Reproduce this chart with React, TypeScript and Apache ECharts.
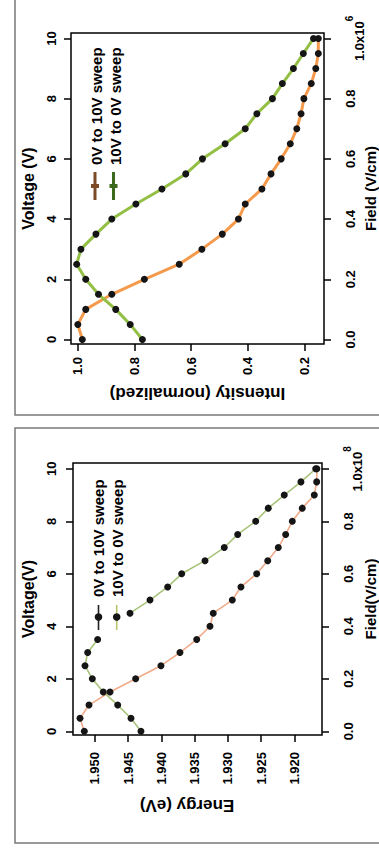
import React, { useEffect, useRef } from "react";
import * as echarts from "echarts";

// ---------- data ----------
const VOLTAGE = [0, 0.5, 1, 1.5, 2, 2.5, 3, 3.5, 4, 4.5, 5, 5.5, 6, 6.5, 7, 7.5, 8, 8.5, 9, 9.5, 10];

// Panel 1: normalized intensity
const INTENSITY_UP = [0.984, 1.0, 0.972, 0.88, 0.765, 0.642, 0.562, 0.49, 0.433, 0.409, 0.35, 0.318, 0.282, 0.25, 0.227, 0.212, 0.202, 0.176, 0.16, 0.151, 0.151];
const INTENSITY_DOWN = [0.772, 0.815, 0.866, 0.927, 0.972, 1.004, 0.989, 0.936, 0.88, 0.795, 0.703, 0.619, 0.56, 0.48, 0.409, 0.368, 0.313, 0.278, 0.239, 0.204, 0.168];

// Panel 2: energy (eV); the 4 V point of the down sweep is hidden under the legend
const ENERGY_UP = [1.95161, 1.95226, 1.9509, 1.94774, 1.94388, 1.94007, 1.93721, 1.93469, 1.93269, 1.9322, 1.92933, 1.92803, 1.92566, 1.924, 1.92241, 1.9213, 1.9203, 1.9188, 1.91699, 1.91663, 1.9166];
const ENERGY_DOWN = [1.94308, 1.94458, 1.94658, 1.94875, 1.9504, 1.9515, 1.9511, 1.9496, null, 1.94473, 1.94172, 1.93906, 1.93695, 1.93344, 1.93054, 1.92852, 1.92581, 1.92392, 1.92151, 1.919, 1.91678];

const VOLTAGE_TICKS = [0, 2, 4, 6, 8, 10];
const FIELD_TICKS = [0, 0.2, 0.4, 0.6, 0.8, 1.0];
const INTENSITY_TICKS = [0.2, 0.4, 0.6, 0.8, 1.0];
const ENERGY_TICKS = [1.92, 1.925, 1.93, 1.935, 1.94, 1.945, 1.95];

const LEGEND = ["0V to 10V sweep", "10V to 0V sweep"];

// ---------- styles ----------
const FONT = "'Liberation Sans', Arial, Helvetica, sans-serif";
const ORANGE1 = "#f59a4c";
const GREEN1 = "#93bf45";
const ORANGE2 = "#f0ab8a";
const GREEN2 = "#a9c47a";

const labelStyle = { color: "#000", fontFamily: FONT, fontWeight: "bold" as const, fontSize: 13 };
const nameStyle = { color: "#000", fontFamily: FONT, fontWeight: "bold" as const, fontSize: 16 };
const tick = (vals: number[]) => ({
  show: true,
  length: 7,
  inside: false,
  customValues: vals,
  lineStyle: { color: "#000", width: 1.5 },
});

function fieldLabel(exp: string) {
  return {
    ...labelStyle,
    rotate: 90,
    margin: 20,
    customValues: FIELD_TICKS,
    formatter: (v: number) => (Math.abs(v - 1) < 1e-9 ? "{m|1.0x10}{s|" + exp + "}" : v.toFixed(1)),
    rich: {
      m: { ...labelStyle, lineHeight: 22, verticalAlign: "bottom" },
      s: { ...labelStyle, fontSize: 10, lineHeight: 10, verticalAlign: "top" },
    },
  };
}

function buildOption() {
  const pairs = (xs: (number | null)[]) => VOLTAGE.map((v, i) => [xs[i] == null ? "-" : xs[i], v]);
  return {
    animation: false,
    backgroundColor: "#fff",
    grid: [
      { left: 71, top: 33, width: 253, height: 311, show: true, borderColor: "#000", borderWidth: 1.5, backgroundColor: "transparent", containLabel: false, outerBoundsMode: "none" },
      { left: 73, top: 463, width: 249, height: 272, show: true, borderColor: "#000", borderWidth: 1.5, backgroundColor: "transparent", containLabel: false, outerBoundsMode: "none" },
    ],
    xAxis: [
      {
        type: "value", gridIndex: 0, position: "bottom", inverse: true, min: 0.131, max: 1.024,
        axisLine: { show: false, onZero: false }, splitLine: { show: false },
        axisTick: tick(INTENSITY_TICKS),
        axisLabel: { ...labelStyle, rotate: 90, margin: 13, customValues: INTENSITY_TICKS, formatter: (v: number) => v.toFixed(1) },
        name: "Intensity (normalized)", nameLocation: "middle", nameRotate: 180, nameGap: 41, nameMoveOverlap: false, nameTextStyle: { ...nameStyle, fontSize: 17 },
      },
      {
        type: "value", gridIndex: 1, position: "bottom", inverse: true, min: 1.91583, max: 1.95331,
        axisLine: { show: false, onZero: false }, splitLine: { show: false },
        axisTick: tick(ENERGY_TICKS),
        axisLabel: { ...labelStyle, rotate: 90, margin: 17, customValues: ENERGY_TICKS, formatter: (v: number) => v.toFixed(3) },
        name: "Energy (eV)", nameLocation: "middle", nameRotate: 180, nameGap: 62, nameMoveOverlap: false, nameTextStyle: { ...nameStyle, fontSize: 17, padding: [0, 0, 0, 21] },
      },
    ],
    yAxis: [
      {
        type: "value", gridIndex: 0, position: "left", min: -0.15, max: 10.18,
        axisLine: { show: false, onZero: false }, splitLine: { show: false },
        axisTick: tick(VOLTAGE_TICKS),
        axisLabel: { ...labelStyle, rotate: 90, margin: 13, customValues: VOLTAGE_TICKS, formatter: (v: number) => String(v) },
        name: "Voltage (V)", nameLocation: "middle", nameRotate: 90, nameGap: 35, nameMoveOverlap: false, nameTextStyle: nameStyle,
      },
      {
        type: "value", gridIndex: 0, position: "right", min: -0.015, max: 1.018,
        axisLine: { show: false, onZero: false }, splitLine: { show: false },
        axisTick: tick(FIELD_TICKS),
        axisLabel: fieldLabel("6"),
        name: "Field (V/cm)", nameLocation: "middle", nameRotate: 90, nameGap: 39, nameMoveOverlap: false, nameTextStyle: { ...nameStyle, fontSize: 15 },
      },
      {
        type: "value", gridIndex: 1, position: "left", min: -0.14, max: 10.22,
        axisLine: { show: false, onZero: false }, splitLine: { show: false },
        axisTick: tick(VOLTAGE_TICKS),
        axisLabel: { ...labelStyle, rotate: 90, margin: 15, customValues: VOLTAGE_TICKS, formatter: (v: number) => String(v) },
        name: "Voltage(V)", nameLocation: "middle", nameRotate: 90, nameGap: 37, nameMoveOverlap: false, nameTextStyle: nameStyle,
      },
      {
        type: "value", gridIndex: 1, position: "right", min: -0.014, max: 1.022,
        axisLine: { show: false, onZero: false }, splitLine: { show: false },
        axisTick: tick(FIELD_TICKS),
        axisLabel: fieldLabel("8"),
        name: "Field(V/cm)", nameLocation: "middle", nameRotate: 90, nameGap: 41, nameMoveOverlap: false, nameTextStyle: { ...nameStyle, fontSize: 15 },
      },
    ],
    series: [
      {
        name: LEGEND[0], type: "line", xAxisIndex: 0, yAxisIndex: 0, data: pairs(INTENSITY_UP),
        symbol: "circle", symbolSize: 7, itemStyle: { color: "#151515" }, lineStyle: { color: ORANGE1, width: 3 },
      },
      {
        name: LEGEND[1], type: "line", xAxisIndex: 0, yAxisIndex: 0, data: pairs(INTENSITY_DOWN),
        symbol: "circle", symbolSize: 7, itemStyle: { color: "#151515" }, lineStyle: { color: GREEN1, width: 3 },
      },
      {
        name: LEGEND[0], type: "line", xAxisIndex: 1, yAxisIndex: 2, data: pairs(ENERGY_UP),
        symbol: "circle", symbolSize: 7, itemStyle: { color: "#151515" }, lineStyle: { color: ORANGE2, width: 1.6 },
      },
      {
        name: LEGEND[1], type: "line", xAxisIndex: 1, yAxisIndex: 2, data: pairs(ENERGY_DOWN), connectNulls: false,
        symbol: "circle", symbolSize: 7, itemStyle: { color: "#151515" }, lineStyle: { color: GREEN2, width: 1.6 },
      },
    ],
    graphic: [
      // panel frames
      { type: "rect", shape: { x: 15, y: -10, width: 420, height: 425 }, style: { fill: "none", stroke: "#7a7a7a", lineWidth: 1.5 }, silent: true },
      { type: "rect", shape: { x: 15, y: 428, width: 420, height: 415 }, style: { fill: "none", stroke: "#7a7a7a", lineWidth: 1.5 }, silent: true },
      // panel 1 legend
      { type: "text", x: 96, y: 165, rotation: Math.PI / 2, style: { text: LEGEND[0], font: "bold 15px " + FONT, fill: "#000", align: "left", verticalAlign: "middle", textAlign: "left", textVerticalAlign: "middle" } },
      { type: "text", x: 115, y: 165, rotation: Math.PI / 2, style: { text: LEGEND[1], font: "bold 15px " + FONT, fill: "#000", align: "left", verticalAlign: "middle", textAlign: "left", textVerticalAlign: "middle" } },
      { type: "line", shape: { x1: 95, y1: 172, x2: 95, y2: 200 }, style: { stroke: "#7b4a26", lineWidth: 3 } },
      { type: "rect", shape: { x: 91, y: 184, width: 8, height: 4 }, style: { fill: "#7b4a26" } },
      { type: "line", shape: { x1: 113.5, y1: 172, x2: 113.5, y2: 200 }, style: { stroke: "#3d6b1e", lineWidth: 3 } },
      { type: "rect", shape: { x: 109.5, y: 184, width: 8, height: 4 }, style: { fill: "#3d6b1e" } },
      // panel 2 legend
      { type: "text", x: 98.5, y: 597, rotation: Math.PI / 2, style: { text: LEGEND[0], font: "bold 15px " + FONT, fill: "#000", align: "left", verticalAlign: "middle", textAlign: "left", textVerticalAlign: "middle" } },
      { type: "text", x: 117.5, y: 597, rotation: Math.PI / 2, style: { text: LEGEND[1], font: "bold 15px " + FONT, fill: "#000", align: "left", verticalAlign: "middle", textAlign: "left", textVerticalAlign: "middle" } },
      { type: "line", shape: { x1: 98.5, y1: 605, x2: 98.5, y2: 630 }, style: { stroke: "#222", lineWidth: 1.6 } },
      { type: "circle", shape: { cx: 98.5, cy: 617, r: 3.8 }, style: { fill: "#151515" } },
      { type: "line", shape: { x1: 116.7, y1: 605, x2: 116.7, y2: 630 }, style: { stroke: "#b7c46a", lineWidth: 1.6 } },
      { type: "circle", shape: { cx: 116.7, cy: 617, r: 3.8 }, style: { fill: "#151515" } },
    ],
  };
}

export default function App() {
  const ref = useRef<HTMLDivElement>(null);
  useEffect(() => {
    if (!ref.current) return;
    const chart = echarts.init(ref.current, null, { renderer: "svg" });
    chart.setOption(buildOption() as any);
    return () => chart.dispose();
  }, []);
  return <div ref={ref} style={{ position: "absolute", left: 0, top: 0, width: 379, height: 851 }} />;
}
